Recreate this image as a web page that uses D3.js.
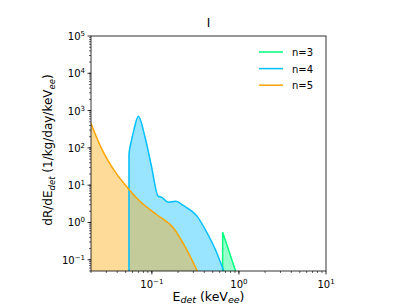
<!DOCTYPE html>
<html>
<head>
<meta charset="utf-8">
<script src="https://cdn.jsdelivr.net/npm/d3@7"></script>
<style>
  body { margin: 0; background: #fff; }
  text { font-family: "DejaVu Sans", sans-serif; }
</style>
</head>
<body>
<svg id="chart"></svg>
<script>
// values
const seriesNames = ["n=3", "n=4", "n=5"];
const seriesColors = ["#00ff7f", "#00bfff", "#ffa500"];

const n3E = [0.65, 0.6501, 0.93];
const n3R = [0.001, 0.55, 0.045];

const n4E = [0.0546, 0.05461, 0.058, 0.061, 0.07, 0.083, 0.099, 0.118, 0.129, 0.154, 0.189, 0.229, 0.33, 0.43, 0.556, 0.68];
const n4R = [0.001, 66, 150, 250, 710, 205, 32, 5.1, 4.8, 3.5, 3.7, 2.86, 1.48, 0.53, 0.155, 0.045];

const n5E = [0.02, 0.0262, 0.0374, 0.0546, 0.073, 0.113, 0.176, 0.25, 0.34];
const n5R = [450, 100, 23.7, 7.7, 3.7, 1.64, 0.72, 0.19, 0.045];

const xTicks = [0.1, 1, 10];
const xTickExp = ["\u22121", "0", "1"];
const yTicks = [0.1, 1, 10, 100, 1000, 10000, 100000];
const yTickExp = ["\u22121", "0", "1", "2", "3", "4", "5"];

const width = 407, height = 305;
const margin = {top: 36, right: 81, bottom: 34, left: 91};
const w = width - margin.left - margin.right;
const h = height - margin.top - margin.bottom;

const svg = d3.select("#chart").attr("width", width).attr("height", height);
const g = svg.append("g").attr("transform", `translate(${margin.left},${margin.top})`);

const x = d3.scaleLog().domain([0.02, 10]).range([0, w]);
const y = d3.scaleLog().domain([0.05, 1e5]).range([h, 0]);

g.append("clipPath").attr("id", "clip")
  .append("rect").attr("width", w).attr("height", h);

// n=3 is a sharp triangle, the others are smooth
const series = [
  {E: n3E, R: n3R, curve: d3.curveLinear},
  {E: n4E, R: n4R, curve: d3.curveMonotoneX},
  {E: n5E, R: n5R, curve: d3.curveMonotoneX}
];

const plot = g.append("g").attr("clip-path", "url(#clip)");
series.forEach((s, i) => {
  const pts = s.E.map((e, j) => [e, s.R[j]]);
  const area = d3.area().curve(s.curve)
    .x(d => x(d[0])).y0(h).y1(d => Math.min(h + 5, y(d[1])));
  plot.append("path").attr("d", area(pts))
    .attr("fill", seriesColors[i]).attr("fill-opacity", 0.4);
});
series.forEach((s, i) => {
  const pts = s.E.map((e, j) => [e, s.R[j]]);
  const line = d3.line().curve(s.curve)
    .x(d => x(d[0])).y(d => Math.min(h + 5, y(d[1])));
  plot.append("path").attr("d", line(pts))
    .attr("fill", "none").attr("stroke", seriesColors[i]).attr("stroke-width", 1.5);
});

// axes with minor ticks
const xMinor = [];
for (let dec = 0.01; dec < 10; dec *= 10)
  for (let k = 1; k < 10; k++) {
    const v = dec * k;
    if (v >= 0.02 && v <= 10) xMinor.push(v);
  }
const yMinor = [];
for (let dec = 0.01; dec < 1e5; dec *= 10)
  for (let k = 1; k < 10; k++) {
    const v = dec * k;
    if (v >= 0.05 && v <= 1e5) yMinor.push(v);
  }

const xAx = g.append("g").attr("transform", `translate(0,${h})`);
xAx.selectAll("line.minor").data(xMinor).join("line")
  .attr("x1", d => x(d)).attr("x2", d => x(d)).attr("y1", 0).attr("y2", 2)
  .attr("stroke", "#000").attr("stroke-width", 0.6);
xAx.selectAll("line.major").data(xTicks).join("line")
  .attr("x1", d => x(d)).attr("x2", d => x(d)).attr("y1", 0).attr("y2", 3.5)
  .attr("stroke", "#000").attr("stroke-width", 0.8);
xTicks.forEach((t, i) => {
  const tx = xAx.append("text").attr("x", x(t)).attr("y", 17)
    .attr("text-anchor", "middle").attr("font-size", 10);
  tx.append("tspan").text("10");
  tx.append("tspan").attr("dy", -4).attr("font-size", 7).text(xTickExp[i]);
});

const yAx = g.append("g");
yAx.selectAll("line.minor").data(yMinor).join("line")
  .attr("x1", 0).attr("x2", -2).attr("y1", d => y(d)).attr("y2", d => y(d))
  .attr("stroke", "#000").attr("stroke-width", 0.6);
yAx.selectAll("line.major").data(yTicks).join("line")
  .attr("x1", 0).attr("x2", -3.5).attr("y1", d => y(d)).attr("y2", d => y(d))
  .attr("stroke", "#000").attr("stroke-width", 0.8);
yTicks.forEach((t, i) => {
  const ty = yAx.append("text").attr("x", -6).attr("y", y(t) + 4)
    .attr("text-anchor", "end").attr("font-size", 10);
  ty.append("tspan").text("10");
  ty.append("tspan").attr("dy", -4).attr("font-size", 7).text(yTickExp[i]);
});

// frame
g.append("rect").attr("width", w).attr("height", h)
  .attr("fill", "none").attr("stroke", "#000").attr("stroke-width", 0.8);

// title
g.append("text").attr("x", w / 2).attr("y", -9).attr("text-anchor", "middle")
  .attr("font-size", 12).text("I");

// x label
const xl = g.append("text").attr("x", w / 2).attr("y", h + 29.5)
  .attr("text-anchor", "middle").attr("font-size", 12.5);
xl.append("tspan").text("E");
xl.append("tspan").attr("dy", 2).attr("font-size", 9.5).attr("font-style", "italic").text("det");
xl.append("tspan").attr("dy", -2).text(" (keV");
xl.append("tspan").attr("dy", 2).attr("font-size", 9.5).attr("font-style", "italic").text("ee");
xl.append("tspan").attr("dy", -2).text(")");

// y label
const yl = g.append("text")
  .attr("transform", `translate(${-39},${150 - margin.top}) rotate(-90)`)
  .attr("text-anchor", "middle").attr("font-size", 12);
yl.append("tspan").text("dR/dE");
yl.append("tspan").attr("dy", 3).attr("font-size", 8.5).attr("font-style", "italic").text("det");
yl.append("tspan").attr("dy", -3).text(" (1/kg/day/keV");
yl.append("tspan").attr("dy", 3).attr("font-size", 8.5).attr("font-style", "italic").text("ee");
yl.append("tspan").attr("dy", -3).text(")");

// legend
const leg = g.append("g").attr("transform", `translate(${259 - margin.left},${52 - margin.top})`);
seriesNames.forEach((n, i) => {
  leg.append("line").attr("x1", 0).attr("x2", 24).attr("y1", i * 16.6).attr("y2", i * 16.6)
    .attr("stroke", seriesColors[i]).attr("stroke-width", 1.5);
  leg.append("text").attr("x", 33).attr("y", i * 16.6 + 4).attr("font-size", 10).text(n);
});
</script>
</body>
</html>
